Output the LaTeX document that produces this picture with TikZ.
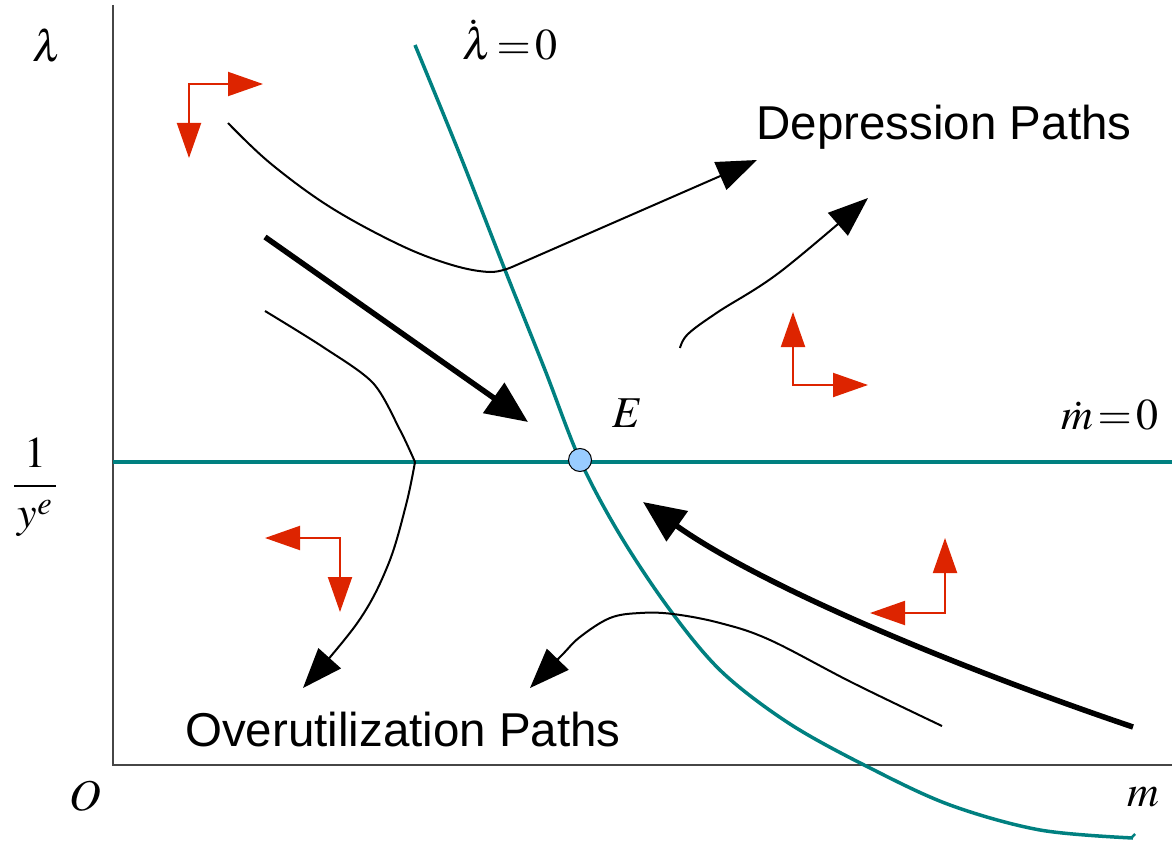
\documentclass[tikz,border=0pt]{standalone}
\usepackage{mathptmx}
\usepackage[no-math]{fontspec}
\newfontfamily\labfont{Liberation Sans}
\usetikzlibrary{arrows.meta}
\definecolor{tealc}{RGB}{0,128,128}
\definecolor{redc}{RGB}{221,36,0}
\definecolor{axisc}{RGB}{70,70,70}
\definecolor{eptc}{RGB}{153,204,255}
\tikzset{
  axisline/.style={draw=axisc,line width=2pt},
  locus/.style={draw=tealc,line width=3.5pt},
  thinpath/.style={draw=black,line width=2pt,-{Triangle[length=40pt,width=30pt]}},
  thickpath/.style={draw=black,line width=5.5pt,-{Triangle[length=42pt,width=36pt]}},
  phase/.style={draw=redc,line width=2pt,{Triangle[length=35pt,width=24pt]}-{Triangle[length=35pt,width=24pt]}},
  mathlab/.style={inner sep=0pt,font=\fontsize{44}{50}\selectfont},
  textlab/.style={inner sep=0pt,font=\labfont\fontsize{47.5}{56}\selectfont},
}
\begin{document}
\begin{tikzpicture}[x=1pt,y=-1pt]
\useasboundingbox (0,0) rectangle (1172,845);
% axes
\coordinate (otop) at (113,5);
\coordinate (orig) at (113,765);
\coordinate (xend) at (1172,765);
\draw[axisline] (otop) -- (orig) -- (xend);
% m-dot = 0 locus
\coordinate (hl) at (113,462);
\coordinate (hr) at (1172,462);
\draw[locus] (hl) -- (hr);
% lambda-dot = 0 locus
\draw[locus] plot[smooth,tension=0.55] coordinates {(415,45) (460,155) (505,270) (545,370) (580,460) (620,535) (670,610) (722,672) (790,724) (870,768) (950,805) (1040,830) (1133,838)};
\draw[locus,line width=2.5pt] (1131,838) -- (1135,834);
% equilibrium point
\node[circle,draw=black,line width=1pt,fill=eptc,minimum size=23pt,inner sep=0pt] (E) at (580,460) {};
% labels
\node[mathlab] (lab) at (47,45) {$\lambda$};
\node[mathlab,anchor=west] (ldot) at (462,40) {$\dot{\lambda}\!=\!0$};
\node[mathlab,anchor=east] (mdot) at (1159,415) {$\dot{m}\!=\!0$};
\node[mathlab] (Elab) at (628,413) {$E$};
\node[mathlab] (frac) at (35,487) {$\displaystyle\frac{\;1\;}{y^{e}}$};
\node[mathlab] (Olab) at (85,796) {$O$};
\node[mathlab] (mlab) at (1143,797) {$m$};
\node[textlab] (dep) at (944,127) {Depression Paths};
\node[textlab] (over) at (403,730) {Overutilization Paths};
% black paths
\coordinate (p1tip) at (757,160);
\draw[thinpath] plot[smooth,tension=0.6] coordinates {(228,123) (270,163) (330,207) (400,245) (452,265) (490,272) (512,267)} -- (p1tip);
\coordinate (p2tip) at (868,198);
\draw[thinpath] plot[smooth,tension=0.6] coordinates {(680,348) (688,334) (718,312) (780,272) (868,198)};
\coordinate (t1s) at (265,237);
\coordinate (t1e) at (528,422);
\draw[thickpath] (t1s) -- (t1e);
\draw[thinpath] plot[smooth,tension=0.5] coordinates {(265,311) (323,347) (373,383) (400,430) (415,462)} plot[smooth,tension=0.6] coordinates {(415,462) (406,505) (388,565) (358,622) (303,688)};
\coordinate (t2s) at (1133,727);
\coordinate (t2e) at (643,502);
\draw[thickpath] (t2s) .. controls (950,665) and (760,585) .. (t2e);
\draw[thinpath] plot[smooth,tension=0.6] coordinates {(942,726) (853,683) (770,640) (720,623) (673,614) (640,613) (610,618) (580,637) (562,655) (530,688)};
% red phase arrows
\coordinate (ra) at (189,84);
\coordinate (rah) at (263,84);
\coordinate (rav) at (189,158);
\draw[phase] (rah) -- (ra) -- (rav);
\coordinate (rb) at (793,385);
\coordinate (rbh) at (868,385);
\coordinate (rbv) at (793,312);
\draw[phase] (rbh) -- (rb) -- (rbv);
\coordinate (rc) at (340,538);
\coordinate (rch) at (265,538);
\coordinate (rcv) at (340,612);
\draw[phase] (rch) -- (rc) -- (rcv);
\coordinate (rd) at (945,613);
\coordinate (rdh) at (870,613);
\coordinate (rdv) at (945,538);
\draw[phase] (rdh) -- (rd) -- (rdv);
\end{tikzpicture}
\end{document}
